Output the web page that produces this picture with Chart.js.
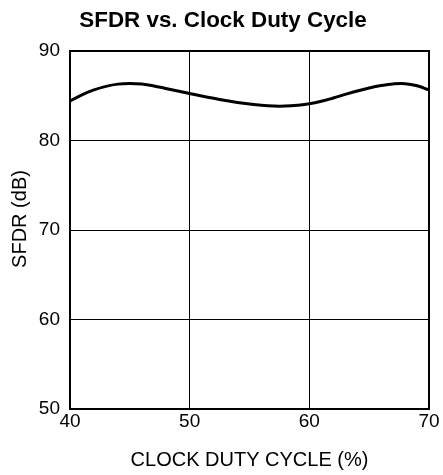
<!DOCTYPE html>
<html>
<head>
<meta charset="utf-8">
<script src="https://cdn.jsdelivr.net/npm/chart.js@4/dist/chart.umd.min.js"></script>
<style>
  html, body { margin: 0; padding: 0; background: #fff; }
  #wrap { width: 443px; height: 475px; }
</style>
</head>
<body>
<div id="wrap"><canvas id="c" width="443" height="475"></canvas></div>
<script>
const chartTitle = 'SFDR vs. Clock Duty Cycle';
const xAxisTitle = 'CLOCK DUTY CYCLE (%)';
const yAxisTitle = 'SFDR (dB)';
const dutyCycle = [40,41,42,43,44,45,46,47,48,49,50,51,52,53,54,55,56,57,58,59,60,61,62,63,64,65,66,67,68,69,70];
const sfdr = [84.4,85.1,85.65,86.05,86.3,86.37,86.3,86.1,85.82,85.53,85.25,84.97,84.71,84.47,84.25,84.07,83.93,83.85,83.85,83.94,84.1,84.38,84.75,85.15,85.53,85.87,86.14,86.32,86.35,86.12,85.65];
const xTicks = [40, 50, 60, 70];
const yTicks = [50, 60, 70, 80, 90];

const FONT = '"Liberation Sans", Arial, Helvetica, sans-serif';

new Chart(document.getElementById('c'), {
  type: 'line',
  data: {
    datasets: [{
      data: dutyCycle.map((x, i) => ({ x: x, y: sfdr[i] })),
      borderColor: '#000',
      borderWidth: 3,
      pointRadius: 0,
      tension: 0.4,
      fill: false
    }]
  },
  options: {
    responsive: false,
    animation: false,
    devicePixelRatio: 1,
    layout: { padding: { left: 0, right: 14, top: 51, bottom: 0 } },
    plugins: {
      legend: { display: false },
      tooltip: { enabled: false },
      title: { display: false }
    },
    scales: {
      x: {
        type: 'linear',
        min: xTicks[0],
        max: xTicks[xTicks.length - 1],
        afterBuildTicks: s => { s.ticks = xTicks.map(v => ({ value: v })); },
        afterFit: s => { s.height = 66; },
        ticks: { color: '#000', font: { family: FONT, size: 19 }, padding: 1, maxRotation: 0 },
        grid: { color: '#000', lineWidth: 1, drawTicks: false },
        border: { color: '#000', width: 2 },
        title: {
          display: true, text: xAxisTitle, color: '#000',
          font: { family: FONT, size: 20 }, padding: { top: 3, bottom: 3 }
        }
      },
      y: {
        type: 'linear',
        min: yTicks[0],
        max: yTicks[yTicks.length - 1],
        afterBuildTicks: s => { s.ticks = yTicks.map(v => ({ value: v })); },
        afterFit: s => { s.width = 70; },
        ticks: { color: '#000', font: { family: FONT, size: 19 }, padding: 10 },
        grid: { color: '#000', lineWidth: 1, drawTicks: false },
        border: { color: '#000', width: 2 },
        title: { display: false }
      }
    }
  },
  plugins: [{
    id: 'frameAndTitles',
    beforeDraw(chart) {
      const ctx = chart.ctx;
      ctx.save();
      ctx.fillStyle = '#fff';
      ctx.fillRect(0, 0, chart.width, chart.height);
      ctx.restore();
    },
    afterDatasetsDraw(chart) {
      const a = chart.chartArea, ctx = chart.ctx;
      ctx.save();
      ctx.strokeStyle = '#000';
      ctx.lineWidth = 2;
      ctx.strokeRect(a.left, a.top, a.right - a.left, a.bottom - a.top);
      ctx.restore();
    },
    afterDraw(chart) {
      const ctx = chart.ctx;
      ctx.save();
      ctx.fillStyle = '#000';
      ctx.textAlign = 'center';
      ctx.textBaseline = 'middle';
      ctx.font = 'bold 22.4px ' + FONT;
      ctx.fillText(chartTitle, 223, 21);
      ctx.translate(20, 219);
      ctx.rotate(-Math.PI / 2);
      ctx.font = '20px ' + FONT;
      ctx.fillText(yAxisTitle, 0, 0);
      ctx.restore();
    }
  }]
});
</script>
</body>
</html>
